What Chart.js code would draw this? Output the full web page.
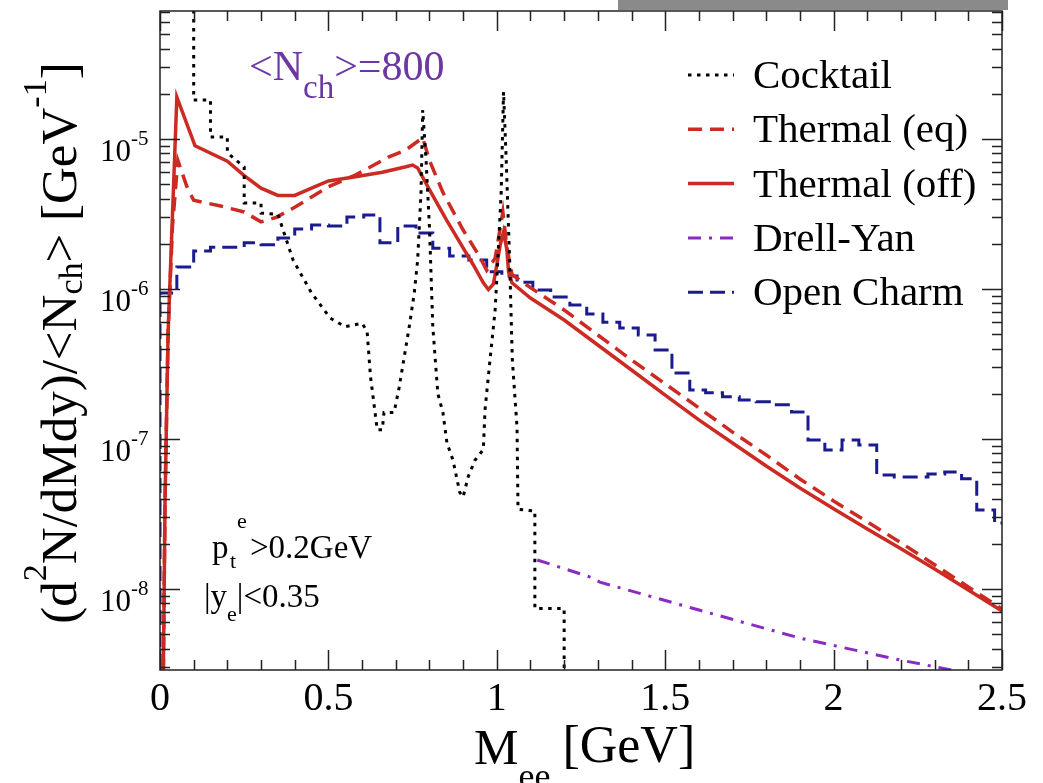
<!DOCTYPE html>
<html>
<head>
<meta charset="utf-8">
<title>Dielectron spectrum</title>
<script src="https://cdn.jsdelivr.net/npm/chart.js@4.4.1/dist/chart.umd.min.js"></script>
<style>
    html, body { margin: 0; padding: 0; background: #fff; }
    canvas { display: block; }
</style>
</head>
<body>
<canvas id="spectrum" width="1043" height="783"></canvas>
<script>
/* Dane: M_ee [GeV], wydajnosc [GeV^-1] */

/* Cocktail (histogram + piki omega i phi) */
var cocktailM = [0.1, 0.1, 0.15, 0.15, 0.2, 0.2, 0.25, 0.25, 0.3, 0.3, 0.35, 0.395, 0.45, 0.505, 0.55, 0.6, 0.615, 0.625, 0.645, 0.66, 0.665, 0.695, 0.71, 0.72, 0.74, 0.755, 0.765, 0.775, 0.78, 0.79, 0.8, 0.81, 0.825, 0.84, 0.852, 0.87, 0.89, 0.9, 0.915, 0.935, 0.96, 0.965, 0.98, 0.995, 1.003, 1.013, 1.02, 1.028, 1.038, 1.046, 1.06, 1.063, 1.113, 1.113, 1.2, 1.2];
var cocktailY = [1e-3, 1.82e-5, 1.82e-5, 1.03e-5, 1.03e-5, 8.1e-6, 6.5e-6, 3.74e-6, 3.74e-6, 3.2e-6, 3.15e-6, 1.56e-6, 9.4e-7, 6.4e-7, 5.6e-7, 5.9e-7, 5.2e-7, 2.6e-7, 1.15e-7, 1.15e-7, 1.5e-7, 1.5e-7, 2.2e-7, 3.0e-7, 5.6e-7, 9.4e-7, 1.56e-6, 4.4e-6, 1.56e-5, 7.2e-6, 2.6e-6, 5.6e-7, 2.0e-7, 1.5e-7, 9.4e-8, 7.2e-8, 4.4e-8, 4.1e-8, 5.6e-8, 7.2e-8, 8.5e-8, 1.56e-7, 3.4e-7, 7.2e-7, 1.56e-6, 4.4e-6, 2.06e-5, 7.2e-6, 1.56e-6, 3.4e-7, 1.2e-7, 3.4e-8, 3.3e-8, 7.4e-9, 7.4e-9, 1e-10];

/* Thermal (eq) */
var eqM = [0.008, 0.015, 0.024, 0.037, 0.053, 0.08, 0.1, 0.18, 0.25, 0.3, 0.345, 0.4, 0.45, 0.5, 0.58, 0.68, 0.73, 0.78, 0.8, 0.84, 0.9, 0.95, 0.97, 0.995, 1.018, 1.03, 1.045, 1.1, 1.2, 1.3, 1.4, 1.5, 1.6, 1.7, 1.8, 1.9, 2.0, 2.1, 2.2, 2.3, 2.4, 2.5];
var eqY = [1e-9, 3.9e-8, 5.1e-7, 2.6e-6, 7.2e-6, 4.8e-6, 3.9e-6, 3.57e-6, 3.26e-6, 2.8e-6, 3.0e-6, 3.5e-6, 4.1e-6, 4.8e-6, 5.75e-6, 7.6e-6, 8.45e-6, 1.02e-5, 7.2e-6, 4.4e-6, 2.47e-6, 1.63e-6, 1.33e-6, 1.6e-6, 3.26e-6, 1.9e-6, 1.25e-6, 1.02e-6, 7.24e-7, 4.93e-7, 3.36e-7, 2.33e-7, 1.61e-7, 1.11e-7, 7.82e-8, 5.41e-8, 3.86e-8, 2.8e-8, 2.03e-8, 1.45e-8, 1.03e-8, 7.36e-9];

/* Thermal (off) */
var offM = [0.008, 0.015, 0.024, 0.037, 0.05, 0.104, 0.2, 0.25, 0.3, 0.35, 0.4, 0.45, 0.5, 0.58, 0.66, 0.727, 0.75, 0.765, 0.8, 0.85, 0.9, 0.93, 0.96, 0.975, 0.99, 1.0, 1.01, 1.02, 1.03, 1.035, 1.045, 1.1, 1.2, 1.3, 1.4, 1.5, 1.6, 1.7, 1.8, 1.9, 2.0, 2.1, 2.2, 2.3, 2.4, 2.5];
var offY = [1e-9, 3.9e-8, 5.1e-7, 3.1e-6, 1.9e-5, 9.0e-6, 7.1e-6, 5.7e-6, 4.7e-6, 4.2e-6, 4.2e-6, 4.7e-6, 5.25e-6, 5.6e-6, 6.0e-6, 6.5e-6, 6.7e-6, 6.4e-6, 4.6e-6, 2.9e-6, 1.88e-6, 1.45e-6, 1.1e-6, 9.9e-7, 1.08e-6, 1.45e-6, 1.96e-6, 2.4e-6, 1.82e-6, 1.3e-6, 1.1e-6, 8.7e-7, 6.21e-7, 4.23e-7, 2.88e-7, 1.96e-7, 1.34e-7, 9.4e-8, 6.6e-8, 4.71e-8, 3.42e-8, 2.51e-8, 1.85e-8, 1.36e-8, 9.85e-9, 7.13e-9];

/* Drell-Yan */
var dyM = [1.12, 1.277, 1.306, 1.603, 1.9, 2.197, 2.35, 2.5];
var dyY = [1.56e-8, 1.2e-8, 1.11e-8, 7.2e-9, 4.7e-9, 3.36e-9, 2.88e-9, 2.3e-9];

/* Open Charm (histogram: lewe krawedzie binow i wartosci) */
var charmEdges = [0, 0.05, 0.10, 0.15, 0.20, 0.25, 0.30, 0.35, 0.40, 0.45, 0.50, 0.555, 0.605, 0.653, 0.706, 0.76, 0.81, 0.86, 0.917, 0.97, 1.015, 1.06, 1.107, 1.16, 1.217, 1.267, 1.315, 1.365, 1.42, 1.47, 1.52, 1.573, 1.62, 1.67, 1.72, 1.77, 1.82, 1.875, 1.924, 1.974, 2.025, 2.075, 2.128, 2.18, 2.23, 2.28, 2.33, 2.38, 2.425, 2.478];
var charmY = [9.4e-7, 1.40e-6, 1.79e-6, 1.9e-6, 1.9e-6, 2.03e-6, 1.97e-6, 2.19e-6, 2.51e-6, 2.67e-6, 2.63e-6, 3.02e-6, 3.11e-6, 2.03e-6, 2.63e-6, 2.36e-6, 1.87e-6, 1.66e-6, 1.56e-6, 1.30e-6, 1.22e-6, 1.11e-6, 9.85e-7, 8.85e-7, 7.8e-7, 6.8e-7, 6.0e-7, 5.5e-7, 4.93e-7, 3.92e-7, 2.75e-7, 2.12e-7, 2.03e-7, 1.91e-7, 1.82e-7, 1.77e-7, 1.69e-7, 1.51e-7, 9.85e-8, 8.45e-8, 9.85e-8, 9.1e-8, 5.75e-8, 5.58e-8, 5.58e-8, 5.84e-8, 6.03e-8, 5.42e-8, 3.36e-8, 2.75e-8];

/* Osie */
var xMin = 0, xMax = 2.5;
var yMin = 2.88e-9, yMax = 7.13e-5;
var xTickLabels = ['0', '0.5', '1', '1.5', '2', '2.5'];
var yDecades = [-8, -7, -6, -5];

var serif = '"Liberation Serif", "Times New Roman", serif';

var toPoints = function (xs, ys) {
    var pts = [];
    for (var i = 0; i < xs.length; i++) {
        pts.push({ x: xs[i], y: ys[i] });
    }
    return pts;
};

var charmPoints = [{ x: charmEdges[0], y: 1e-10 }].concat(toPoints(charmEdges, charmY));
charmPoints.push({ x: xMax, y: charmY[charmY.length - 1] });

/* Tekst z indeksami gornymi/dolnymi: [tekst, rozmiar, przesuniecie y] */
var richWidth = function (ctx, parts) {
    var w = 0;
    parts.forEach(function (p) {
        ctx.font = p[1] + 'px ' + serif;
        w += ctx.measureText(p[0]).width;
    });
    return w;
};

var richText = function (ctx, x, y, parts) {
    var cx = x;
    parts.forEach(function (p) {
        ctx.font = p[1] + 'px ' + serif;
        ctx.fillText(p[0], cx, y + (p[2] || 0));
        cx += ctx.measureText(p[0]).width;
    });
    return cx;
};

/* Ramka, znaczniki, podpisy, legenda */
var framePlugin = {
    id: 'frame',
    afterDraw: function (chart) {
        var ctx = chart.ctx;
        var a = chart.chartArea;
        var xs = chart.scales.x;
        var ys = chart.scales.y;

        ctx.save();
        ctx.strokeStyle = '#222';
        ctx.lineWidth = 1.5;
        ctx.setLineDash([]);

        // ticks x (dol i gora, do srodka)
        ctx.beginPath();
        for (var k = 0; k <= 25; k++) {
            var v = k / 10;
            var px = Math.round(xs.getPixelForValue(v)) + 0.5;
            var len = (k % 5 === 0) ? 20 : 10;
            ctx.moveTo(px, a.bottom);
            ctx.lineTo(px, a.bottom - len);
            ctx.moveTo(px, a.top);
            ctx.lineTo(px, a.top + len);
        }
        // ticks y (lewo i prawo)
        for (var e = -9; e <= -5; e++) {
            for (var m = 1; m <= 9; m++) {
                var val = m * Math.pow(10, e);
                if (val < yMin || val > yMax) continue;
                var py = Math.round(ys.getPixelForValue(val)) + 0.5;
                var l = (m === 1) ? 20 : 10;
                ctx.moveTo(a.left, py);
                ctx.lineTo(a.left + l, py);
                ctx.moveTo(a.right, py);
                ctx.lineTo(a.right - l, py);
            }
        }
        ctx.stroke();
        ctx.strokeRect(a.left, a.top, a.right - a.left, a.bottom - a.top);

        ctx.fillStyle = '#000';
        ctx.textBaseline = 'alphabetic';

        // etykiety osi x
        ctx.textAlign = 'center';
        ctx.font = '40px ' + serif;
        xTickLabels.forEach(function (t) {
            ctx.fillText(t, xs.getPixelForValue(parseFloat(t)), 710);
        });

        // etykiety osi y: 10^n
        yDecades.forEach(function (d) {
            var py = ys.getPixelForValue(Math.pow(10, d));
            ctx.textAlign = 'right';
            ctx.font = '31px ' + serif;
            ctx.fillText('10', 131, py + 22);
            ctx.textAlign = 'left';
            ctx.font = '21px ' + serif;
            ctx.fillText(String(d), 131, py + 6);
        });

        ctx.textAlign = 'left';

        // tytul osi x: M_ee [GeV]
        var xt = richText(ctx, 474, 764, [['M', 50, 0], ['ee', 36, 24]]);
        richText(ctx, xt + 12, 762, [['[GeV]', 52, 0]]);

        // tytul osi y
        var yParts = [['(d', 51, 0], ['2', 34, -30], ['N/dMdy)/<N', 51, 0], ['ch', 34, 6], ['> [GeV', 51, 0], ['-1', 34, -30], [']', 51, 0]];
        ctx.save();
        ctx.translate(76, 343);
        ctx.rotate(-Math.PI / 2);
        richText(ctx, -richWidth(ctx, yParts) / 2, 0, yParts);
        ctx.restore();

        // <N_ch>=800
        ctx.fillStyle = '#6c36a3';
        richText(ctx, 249, 80, [['<N', 42, 0], ['ch', 33, 18], ['>=800', 42, 0]]);

        // ciecia kinematyczne
        ctx.fillStyle = '#000';
        ctx.font = '33px ' + serif;
        ctx.fillText('p', 212, 558);
        ctx.font = '22px ' + serif;
        ctx.fillText('t', 230, 568);
        ctx.fillText('e', 237, 528);
        ctx.font = '33px ' + serif;
        ctx.fillText('>0.2GeV', 250, 558);
        richText(ctx, 204, 607, [['|y', 33, 0], ['e', 22, 14], ['|<0.35', 33, 0]]);

        // legenda
        chart.data.datasets.forEach(function (ds, i) {
            var base = 88 + i * 54.3;
            ctx.strokeStyle = ds.borderColor;
            ctx.lineWidth = ds.borderWidth;
            ctx.setLineDash(ds.borderDash || []);
            ctx.beginPath();
            ctx.moveTo(688, base - 13);
            ctx.lineTo(734, base - 13);
            ctx.stroke();
            ctx.setLineDash([]);
            ctx.fillStyle = '#000';
            ctx.font = '41px ' + serif;
            ctx.fillText(ds.label, 753, base);
        });

        // szary pasek u gory (jak na oryginale)
        ctx.fillStyle = '#8a8a8a';
        ctx.fillRect(618, 0, 390, 10);

        ctx.restore();
    }
};

var ctxSpectrum = document.getElementById('spectrum');

var chartSpectrum = new Chart(ctxSpectrum, {
    type: 'line',
    data: {
        datasets: [
            {
                label: 'Cocktail',
                data: toPoints(cocktailM, cocktailY),
                borderColor: '#000000',
                borderWidth: 3,
                borderDash: [3.5, 5.5]
            },
            {
                label: 'Thermal (eq)',
                data: toPoints(eqM, eqY),
                borderColor: '#cc2a22',
                borderWidth: 3.5,
                borderDash: [14, 8]
            },
            {
                label: 'Thermal (off)',
                data: toPoints(offM, offY),
                borderColor: '#cc2a22',
                borderWidth: 3.5
            },
            {
                label: 'Drell-Yan',
                data: toPoints(dyM, dyY),
                borderColor: '#8a2bc2',
                borderWidth: 3,
                borderDash: [13, 8, 3, 8]
            },
            {
                label: 'Open Charm',
                data: charmPoints,
                borderColor: '#1b1b8f',
                borderWidth: 3,
                borderDash: [15, 7],
                stepped: true
            }
        ]
    },
    options: {
        responsive: false,
        maintainAspectRatio: false,
        animation: false,
        layout: { padding: { left: 160, top: 11, right: 41, bottom: 113 } },
        elements: {
            point: { radius: 0, hoverRadius: 0 },
            line: { tension: 0, fill: false }
        },
        scales: {
            x: { type: 'linear', min: xMin, max: xMax, display: false },
            y: { type: 'logarithmic', min: yMin, max: yMax, display: false }
        },
        plugins: {
            legend: { display: false },
            tooltip: { enabled: false }
        }
    },
    plugins: [framePlugin]
});
</script>
</body>
</html>
